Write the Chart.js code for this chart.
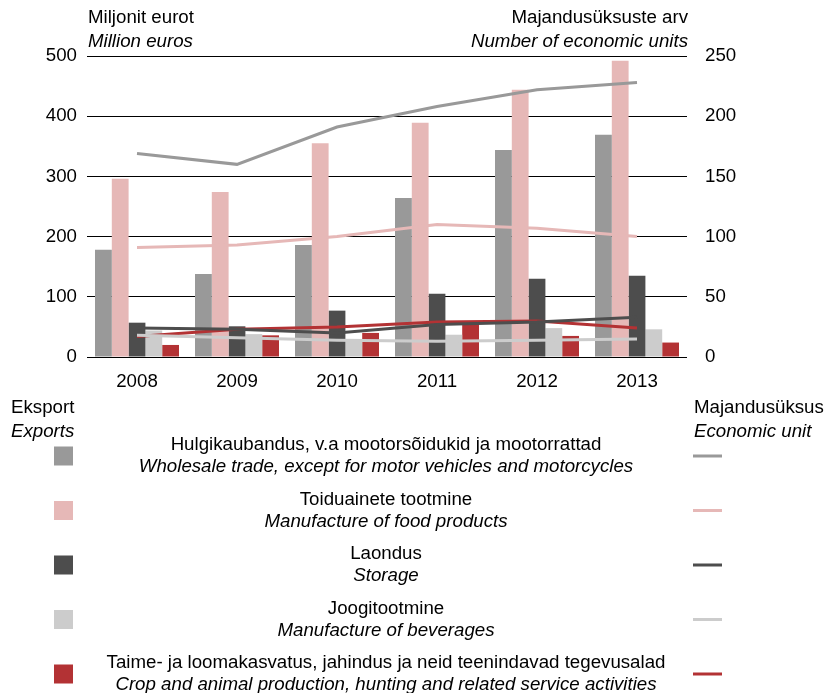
<!DOCTYPE html>
<html>
<head>
<meta charset="utf-8">
<script src="https://cdn.jsdelivr.net/npm/chart.js@4/dist/chart.umd.min.js"></script>
<style>
  html, body { margin: 0; padding: 0; background: #fff; }
  #wrap { width: 825px; height: 693px; }
</style>
</head>
<body>
<div id="wrap"><canvas id="chart" width="825" height="693"></canvas></div>
<script>
// Aastad
const years = ['2008', '2009', '2010', '2011', '2012', '2013'];

// Eksport, miljonit eurot (tulbad)
const exportWholesale = [178, 138, 186, 264, 344, 369];
const exportFood = [296, 274, 355, 389, 444, 492];
const exportStorage = [57, 51, 77, 105, 130, 135];
const exportBeverages = [44, 38, 30, 37, 48, 46];
const exportCrop = [20, 36, 40, 56, 35, 24];

// Majandusüksuste arv (jooned)
const unitsWholesale = [169, 160, 191, 208, 222, 228];
const unitsFood = [91, 93, 100, 110, 107, 100];
const unitsStorage = [24, 23, 20, 27, 29, 33];
const unitsBeverages = [18, 16, 14, 13, 14, 15];
const unitsCrop = [17, 23, 25, 29, 30, 24];

// Telgede jaotised
const leftTicks = [0, 100, 200, 300, 400, 500];
const rightTicks = [0, 50, 100, 150, 200, 250];

// Legendi tekstid
const namesEt = [
    'Hulgikaubandus, v.a mootorsõidukid ja mootorrattad',
    'Toiduainete tootmine',
    'Laondus',
    'Joogitootmine',
    'Taime- ja loomakasvatus, jahindus ja neid teenindavad tegevusalad'
];
const namesEn = [
    'Wholesale trade, except for motor vehicles and motorcycles',
    'Manufacture of food products',
    'Storage',
    'Manufacture of beverages',
    'Crop and animal production, hunting and related service activities'
];
const colors = ['#999999', '#e6b8b7', '#4d4d4d', '#cccccc', '#b33234'];

const FONT = '"Liberation Sans", Arial, sans-serif';
const SIZE = 18.7;

const barSets = [exportWholesale, exportFood, exportStorage, exportBeverages, exportCrop];
const lineSets = [unitsWholesale, unitsFood, unitsStorage, unitsBeverages, unitsCrop];

const datasets = [];
lineSets.forEach((d, i) => {
    datasets.push({
        type: 'line',
        label: namesEn[i] + ' (units)',
        data: d,
        yAxisID: 'y1',
        borderColor: colors[i],
        borderWidth: 3,
        pointRadius: 0,
        tension: 0,
        fill: false,
        order: 1
    });
});
barSets.forEach((d, i) => {
    datasets.push({
        type: 'bar',
        label: namesEn[i],
        data: d,
        yAxisID: 'y',
        backgroundColor: colors[i],
        borderWidth: 0,
        barPercentage: 1.0,
        categoryPercentage: 0.84,
        order: 2
    });
});

// Telgede pealkirjad ja legend joonistatakse käsitsi
const textPlugin = {
    id: 'textPlugin',
    afterDraw(chart) {
        const ctx = chart.ctx;
        ctx.save();
        ctx.fillStyle = '#000';
        ctx.textBaseline = 'middle';
        const normal = SIZE + 'px ' + FONT;
        const italic = 'italic ' + SIZE + 'px ' + FONT;

        // telgede pealkirjad
        ctx.textAlign = 'left';
        ctx.font = normal;
        ctx.fillText('Miljonit eurot', 88, 18);
        ctx.font = italic;
        ctx.fillText('Million euros', 88, 42);
        ctx.textAlign = 'right';
        ctx.font = normal;
        ctx.fillText('Majandusüksuste arv', 688, 18);
        ctx.font = italic;
        ctx.fillText('Number of economic units', 688, 42);

        // legendi päised
        ctx.textAlign = 'left';
        ctx.font = normal;
        ctx.fillText('Eksport', 11, 408);
        ctx.fillText('Majandusüksus', 694, 408);
        ctx.font = italic;
        ctx.fillText('Exports', 11, 432);
        ctx.fillText('Economic unit', 694, 432);

        // legendi read
        for (let i = 0; i < namesEt.length; i++) {
            const cy = 456 + i * 54.5;
            ctx.fillStyle = colors[i];
            ctx.fillRect(54, cy - 9.5, 19, 19);
            ctx.strokeStyle = colors[i];
            ctx.lineWidth = 3;
            ctx.beginPath();
            ctx.moveTo(693, cy);
            ctx.lineTo(722, cy);
            ctx.stroke();

            ctx.fillStyle = '#000';
            ctx.textAlign = 'center';
            ctx.font = normal;
            ctx.fillText(namesEt[i], 386, cy - 11);
            ctx.font = italic;
            ctx.fillText(namesEn[i], 386, cy + 11);
        }
        ctx.restore();
    }
};

const ctx = document.getElementById('chart').getContext('2d');
new Chart(ctx, {
    data: { labels: years, datasets: datasets },
    options: {
        responsive: false,
        animation: false,
        layout: { padding: { top: 56, bottom: 296, left: 0, right: 0 } },
        plugins: {
            legend: { display: false },
            tooltip: { enabled: false }
        },
        scales: {
            x: {
                grid: { display: false },
                border: { display: false },
                ticks: { color: '#000', padding: 6, font: { size: SIZE, family: FONT } },
                afterFit(scale) { scale.height = 40; }
            },
            y: {
                position: 'left',
                min: 0,
                max: 500,
                afterBuildTicks(scale) { scale.ticks = leftTicks.map(v => ({ value: v })); },
                grid: { color: '#000', lineWidth: 1, drawTicks: false },
                border: { display: false },
                ticks: { color: '#000', padding: 10, font: { size: SIZE, family: FONT } },
                afterFit(scale) { scale.width = 87; }
            },
            y1: {
                position: 'right',
                min: 0,
                max: 250,
                afterBuildTicks(scale) { scale.ticks = rightTicks.map(v => ({ value: v })); },
                grid: { display: false },
                border: { display: false },
                ticks: { color: '#000', padding: 10, font: { size: SIZE, family: FONT } },
                afterFit(scale) { scale.width = 138; }
            }
        }
    },
    plugins: [textPlugin]
});
</script>
</body>
</html>
